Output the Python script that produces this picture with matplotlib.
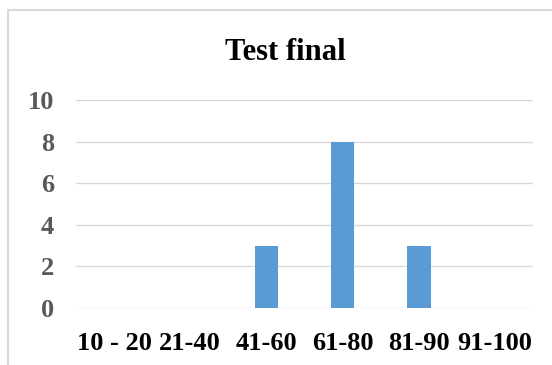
import matplotlib.pyplot as plt
from matplotlib.patches import Rectangle

# --- datos ---
categorias = ["10 - 20", "21-40", "41-60", "61-80", "81-90", "91-100"]
valores = [0, 0, 3, 8, 3, 0]
ticks_y = [0, 2, 4, 6, 8, 10]
titulo = "Test final"

plt.rcParams['font.family'] = ['Liberation Serif', 'DejaVu Serif']

fig = plt.figure(figsize=(5.52, 3.65), dpi=100)
ax = fig.add_axes([76 / 552, 1 - 308 / 365, 457 / 552, 208 / 365])

x = range(len(categorias))
ax.bar(x, valores, width=0.31, color='#5B9BD5', zorder=3)

ax.set_xlim(-0.5, len(categorias) - 0.5)
ax.set_ylim(0, 10)
ax.set_yticks(ticks_y)
ax.set_xticks(list(x))
ax.set_xticklabels(categorias, fontsize=19, fontweight='bold', color='black')
ax.set_yticklabels([str(t) for t in ticks_y], fontsize=19, fontweight='bold', color='#595959')
ax.tick_params(axis='both', length=0)
ax.tick_params(axis='x', pad=17)
ax.tick_params(axis='y', pad=16)

ax.grid(axis='y', color='#d9d9d9', linewidth=1, zorder=0)
for s in ax.spines.values():
    s.set_visible(False)

# titulo
fig.text(285 / 552, 1 - 60 / 365, titulo, ha='center', va='baseline',
         fontsize=22, fontweight='bold', color='black')

# borde del grafico (sale de la imagen por la derecha y abajo)
borde = Rectangle((8 / 552, -0.1), 1.2, 1 - 10 / 365 + 0.1, transform=fig.transFigure,
                  fill=False, edgecolor='#d9d9d9', linewidth=1.5)
fig.patches.append(borde)

fig.savefig("out.png", dpi=100)
